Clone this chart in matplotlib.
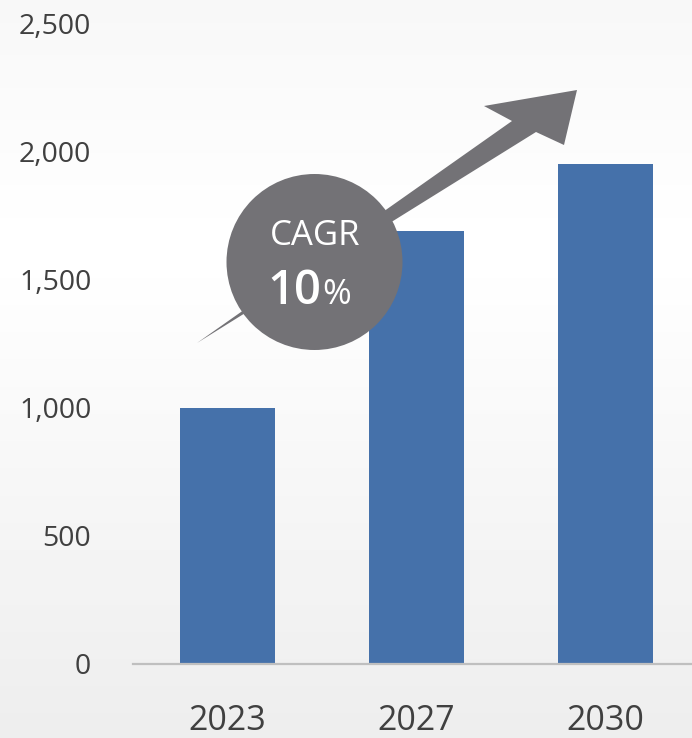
import numpy as np
import matplotlib
matplotlib.use("Agg")
import matplotlib.pyplot as plt
from matplotlib.patches import Polygon, Circle
from matplotlib.ticker import FuncFormatter

years = ["2023", "2027", "2030"]
market = [1000, 1690, 1955]
cagr_label = "CAGR"
cagr_value = "10"

plt.rcParams['font.family'] = ['Open Sans', 'DejaVu Sans']

W, H = 692, 738
fig = plt.figure(figsize=(W / 100, H / 100), dpi=100)

# soft vertical background gradient
bg = fig.add_axes([0, 0, 1, 1])
rows = np.interp(np.arange(H), [0, 250, H], [0.97, 1.0, 0.93])
bg.imshow(np.repeat(rows[:, None], 2, axis=1), cmap='gray', vmin=0, vmax=1,
          aspect='auto', extent=[0, 1, 0, 1])
bg.axis('off')

ax = fig.add_axes([133 / W, 1 - 664 / H, 567 / W, 640 / H])
ax.set_facecolor('none')
x = np.arange(len(years))
ax.bar(x, market, width=0.5, color='#4571AA', zorder=2)
ax.set_xlim(-0.5, 2.5)
ax.set_ylim(0, 2500)
ax.set_yticks(np.arange(0, 2501, 500))
ax.yaxis.set_major_formatter(FuncFormatter(lambda v, p: f"{v:,.0f}"))
ax.set_xticks(x, years)
for s in ['top', 'right', 'left']:
    ax.spines[s].set_visible(False)
ax.spines['bottom'].set_color('#BFBFBF')
ax.spines['bottom'].set_linewidth(1.6)
ax.tick_params(axis='y', length=0, pad=30, labelsize=20.5, labelcolor='#404040')
ax.tick_params(axis='x', length=0, pad=29, labelsize=24.5, labelcolor='#404040')

# CAGR arrow + badge, in pixel space
ov = fig.add_axes([0, 0, 1, 1])
ov.set_xlim(0, W)
ov.set_ylim(H, 0)
ov.axis('off')
ov.patch.set_alpha(0)
grey = '#737276'
arrow = [(197, 343), (512, 121), (484, 106), (577, 90), (564, 145), (536, 132)]
ov.add_patch(Polygon(arrow, closed=True, color=grey, lw=0))
ov.add_patch(Circle((314.5, 262), 88, color=grey, lw=0))
ov.text(315, 245, cagr_label, ha='center', va='baseline', color='white', fontsize=25)
ov.text(321, 304, cagr_value, ha='right', va='baseline', color='white',
        fontsize=34, fontweight='semibold')
ov.text(322, 304, "%", ha='left', va='baseline', color='white', fontsize=25)

fig.savefig('out.png', dpi=100)
